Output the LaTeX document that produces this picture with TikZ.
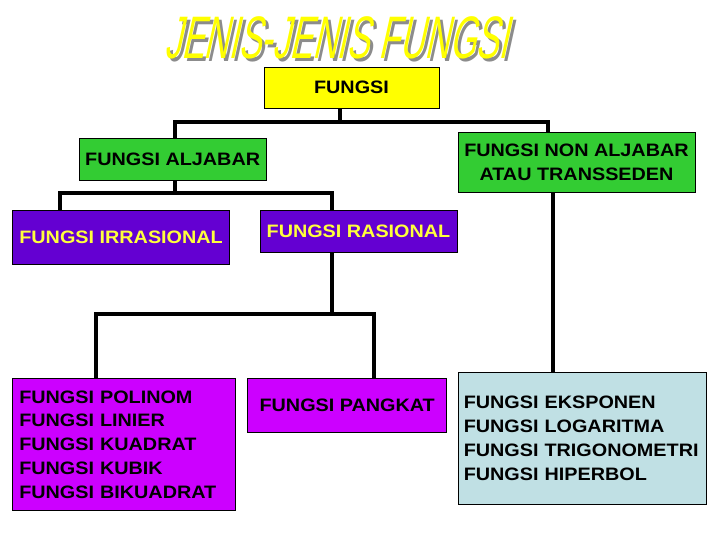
\documentclass[tikz,border=0pt]{standalone}
\usepackage{fontspec}
\usepackage{pdfrender}
\setmainfont{Liberation Sans}[FakeStretch=1.1]
\newfontfamily\titlefont{Liberation Sans}[FakeStretch=0.57,FakeSlant=0.22]
\definecolor{cyel}{RGB}{255,255,0}
\definecolor{cgreen}{RGB}{51,204,51}
\definecolor{cpurple}{RGB}{100,0,210}
\definecolor{cmag}{RGB}{204,0,255}
\definecolor{cblue}{RGB}{192,224,228}
\definecolor{ctxtyel}{RGB}{255,255,60}
\definecolor{cshadow}{RGB}{140,140,140}
\definecolor{coutline}{RGB}{40,40,30}
\newcommand\nodefont{\fontsize{18}{23.7}\selectfont\bfseries}
\newcommand\ttltext{\titlefont\fontsize{60}{60}\selectfont JENIS-JENIS FUNGSI}
\begin{document}
\begin{tikzpicture}[x=1pt,y=-1pt,
  box/.style={draw=black, line width=0.8pt, inner sep=0pt, font=\nodefont, align=center},
  listbox/.style={box, align=left},
  conn/.style={draw=black, line width=4pt, line join=miter, line cap=butt},
  ttl/.style={inner sep=0pt}]
\fill[white] (0,0) rectangle (720,540);
\useasboundingbox (0,0) rectangle (720,540);
% title
\node[ttl, text=cshadow] (titleshadow) at (339,41) {\textpdfrender{TextRenderingMode=FillStroke,LineWidth=3.4,LineJoin=1,StrokeColor=cshadow}{\color{cshadow}\ttltext}};
\node[ttl, text=cyel] (title) at (336,38) {\textpdfrender{TextRenderingMode=FillStroke,LineWidth=3.0,LineJoin=1,StrokeColor=coutline}{\color{cyel}\ttltext}};
% boxes
\node[box, fill=cyel, minimum width=175, minimum height=41] (fungsi) at (351.5,87.5) {FUNGSI};
\node[box, fill=cgreen, minimum width=186.6, minimum height=42] (aljabar) at (172.7,159) {FUNGSI ALJABAR};
\node[box, fill=cgreen, minimum width=237, minimum height=59.6] (nonalj) at (576.5,162.5) {FUNGSI NON ALJABAR\\ATAU TRANSSEDEN};
\node[box, fill=cpurple, text=ctxtyel, minimum width=216.5, minimum height=53.3] (irras) at (121.1,237.3) {FUNGSI IRRASIONAL};
\node[box, fill=cpurple, text=ctxtyel, minimum width=197, minimum height=41.6] (ras) at (358.5,231.5) {FUNGSI RASIONAL};
\node[listbox, fill=cmag, text width=210, inner xsep=6.5pt, minimum height=132.4] (polinom) at (124.3,444.5)
  {FUNGSI POLINOM\\FUNGSI LINIER\\FUNGSI KUADRAT\\FUNGSI KUBIK\\FUNGSI BIKUADRAT};
\node[box, fill=cmag, minimum width=199, minimum height=54] (pangkat) at (347.2,405.3) {FUNGSI PANGKAT};
\node[listbox, fill=cblue, text width=236.4, inner xsep=5.8pt, minimum height=131.3] (ekspo) at (582,438.3)
  {FUNGSI EKSPONEN\\FUNGSI LOGARITMA\\FUNGSI TRIGONOMETRI\\FUNGSI HIPERBOL};
% junction coordinates
\coordinate (j1) at (340,122);
\coordinate (j1l) at (175,122);
\coordinate (j1r) at (548,122);
\coordinate (j2) at (174.5,192.7);
\coordinate (j2l) at (60,192.7);
\coordinate (j2r) at (332.3,192.7);
\coordinate (j3) at (332.3,314);
\coordinate (j3l) at (96,314);
\coordinate (j3r) at (373.8,314);
\coordinate (j4) at (553,0);
% connectors
\draw[conn] (j1 |- fungsi.south) -- (j1);
\draw[conn] (j1l |- aljabar.north) -- (j1l) -- (j1r) -- (j1r |- nonalj.north);
\draw[conn] (j2 |- aljabar.south) -- (j2);
\draw[conn] (j2l |- irras.north) -- (j2l) -- (j2r) -- (j2r |- ras.north);
\draw[conn] (j3 |- ras.south) -- (j3);
\draw[conn] (j3l |- polinom.north) -- (j3l) -- (j3r) -- (j3r |- pangkat.north);
\draw[conn] (j4 |- nonalj.south) -- (j4 |- ekspo.north);
\end{tikzpicture}
\end{document}
